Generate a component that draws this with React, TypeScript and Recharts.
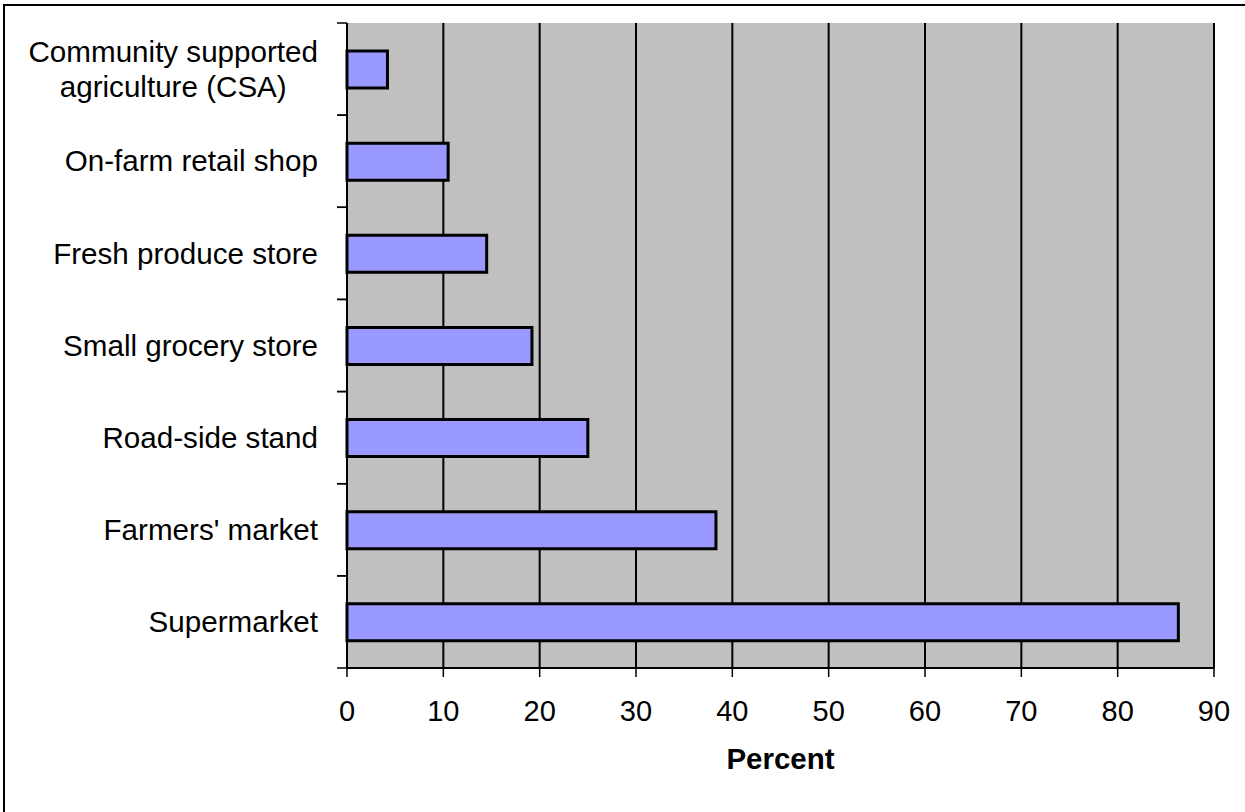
import React from 'react';
import { BarChart, Bar, XAxis, YAxis, CartesianGrid } from 'recharts';

const categories = [
  'Community supported agriculture (CSA)',
  'On-farm retail shop',
  'Fresh produce store',
  'Small grocery store',
  'Road-side stand',
  "Farmers' market",
  'Supermarket',
];
const percentValues = [4.2, 10.5, 14.5, 19.2, 25.0, 38.3, 86.3];
const xTicks = [0, 10, 20, 30, 40, 50, 60, 70, 80, 90];
const xAxisTitle = 'Percent';

const data = categories.map((name, i) => ({ name, value: percentValues[i] }));

const FONT = "'Liberation Sans', Arial, sans-serif";
const LABEL_SIZE = 29.6;
const LINE_H = 35;
const TICK_LEN = 10;
const TICK_GAP = 19;
const WRAP_W = 315;

let ctx: CanvasRenderingContext2D | null = null;
function measure(s: string): number {
  if (!ctx) ctx = document.createElement('canvas').getContext('2d');
  if (!ctx) return s.length * 15;
  ctx.font = `${LABEL_SIZE}px ${FONT}`;
  return ctx.measureText(s).width;
}
function wrap(s: string, maxW: number): string[] {
  const words = s.split(' ');
  const lines: string[] = [];
  let cur = '';
  for (const w of words) {
    const cand = cur ? cur + ' ' + w : w;
    if (cur && measure(cand) > maxW) {
      lines.push(cur);
      cur = w;
    } else cur = cand;
  }
  if (cur) lines.push(cur);
  return lines;
}

const CategoryTick = (props: any) => {
  const { x, y, payload } = props;
  const half = payload && typeof payload.offset === 'number' ? payload.offset : 0;
  const lines = wrap(String(payload.value), WRAP_W);
  const axisX = x + TICK_GAP + TICK_LEN;
  const marks = (
    <>
      <line x1={axisX - TICK_LEN} x2={axisX} y1={y - half} y2={y - half} stroke="#000" strokeWidth={1.5} />
      <line x1={axisX - TICK_LEN} x2={axisX} y1={y + half} y2={y + half} stroke="#000" strokeWidth={1.5} />
    </>
  );
  const textStyle = { fontFamily: FONT, fontSize: LABEL_SIZE, fill: '#000' };
  if (lines.length === 1) {
    return (
      <g>
        {marks}
        <text x={x} y={y} dy={LABEL_SIZE * 0.345} textAnchor="end" style={textStyle}>
          {lines[0]}
        </text>
      </g>
    );
  }
  const maxW = Math.max(...lines.map(measure));
  const cx = x - maxW / 2;
  return (
    <g>
      {marks}
      {lines.map((ln, i) => (
        <text
          key={i}
          x={cx}
          y={y + (i - (lines.length - 1) / 2) * LINE_H}
          dy={LABEL_SIZE * 0.345}
          textAnchor="middle"
          style={textStyle}
        >
          {ln}
        </text>
      ))}
    </g>
  );
};

export default function App() {
  return (
    <div
      style={{
        position: 'absolute',
        left: 0,
        top: 0,
        width: 1245,
        height: 812,
        overflow: 'hidden',
        background: '#fff',
      }}
    >
      <div
        style={{
          position: 'absolute',
          left: 3,
          top: 4,
          width: 1300,
          height: 900,
          borderLeft: '2px solid #000',
          borderTop: '2px solid #000',
        }}
      />
      <div style={{ position: 'absolute', left: 0, top: 0 }}>
        <BarChart
          width={1245}
          height={812}
          data={data}
          layout="vertical"
          margin={{ top: 23, right: 31, bottom: 34, left: 0 }}
          barSize={37}
        >
          <CartesianGrid
            xAxisId="main"
            yAxisId="cat"
            horizontal={false}
            vertical={true}
            fill="#C0C0C0"
            stroke="#000"
            strokeWidth={2}
            strokeOpacity={1}
          />
          <XAxis
            xAxisId="main"
            type="number"
            domain={[0, 90]}
            ticks={xTicks}
            interval={0}
            height={110}
            tickSize={9}
            tickMargin={23}
            axisLine={{ stroke: '#000', strokeWidth: 2 }}
            tickLine={{ stroke: '#000', strokeWidth: 1.5 }}
            tick={{ fontFamily: FONT, fontSize: 29, fill: '#000' }}
            label={{
              value: xAxisTitle,
              position: 'insideBottom',
              offset: 9,
              style: { fontFamily: FONT, fontSize: 29.5, fontWeight: 'bold', fill: '#000' },
            }}
          />
          <XAxis
            xAxisId="top"
            orientation="top"
            type="number"
            domain={[0, 90]}
            height={0}
            tick={false}
            tickLine={false}
            axisLine={{ stroke: '#808080', strokeWidth: 2 }}
          />
          <YAxis
            yAxisId="cat"
            type="category"
            dataKey="name"
            width={347}
            interval={0}
            tickLine={false}
            tickSize={TICK_LEN}
            tickMargin={TICK_GAP}
            axisLine={{ stroke: '#000', strokeWidth: 2 }}
            tick={<CategoryTick />}
          />
          <YAxis
            yAxisId="right"
            orientation="right"
            type="category"
            dataKey="name"
            width={0}
            tick={false}
            tickLine={false}
            axisLine={{ stroke: '#808080', strokeWidth: 2 }}
          />
          <Bar
            xAxisId="main"
            yAxisId="cat"
            dataKey="value"
            fill="#9999FF"
            stroke="#000"
            strokeWidth={3}
            isAnimationActive={false}
          />
        </BarChart>
      </div>
    </div>
  );
}
